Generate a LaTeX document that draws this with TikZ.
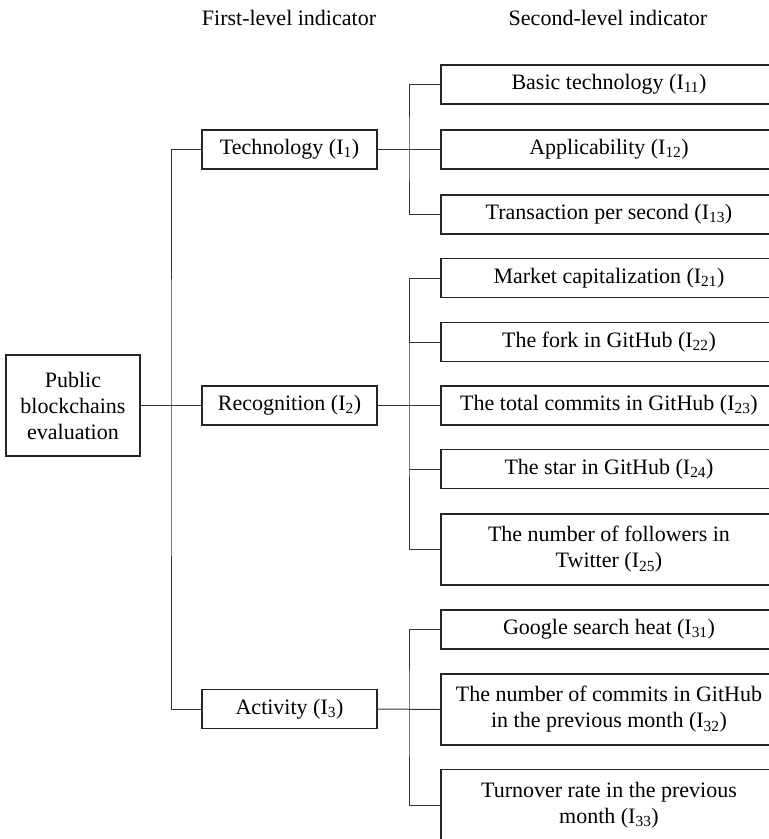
\documentclass[tikz,border=0pt]{standalone}
\usepackage{fontspec}
\setmainfont{Liberation Serif}
\usepackage{tikz}
\usetikzlibrary{positioning,calc}
\tikzset{
  nb/.style={draw=black!85, line width=1.6pt, align=center, inner sep=0pt,
             font=\fontsize{22}{26}\selectfont},
  nroot/.style={nb, minimum width=134, minimum height=101},
  nfirst/.style={nb, minimum width=175, minimum height=39},
  nsecond/.style={nb, minimum width=336, minimum height=39},
  nsecondtall/.style={nsecond, minimum height=71},
  nhead/.style={font=\fontsize{22}{26}\selectfont, inner sep=0pt},
  ln/.style={draw=black!80, line width=1pt},
}
\begin{document}
\begin{tikzpicture}[x=1pt, y=1pt]
  \path[use as bounding box, clip] (0,0) rectangle (769,-839);
  % column headings
  \node[nhead] (h1) at (289,-18) {First-level indicator};
  \node[nhead] (h2) at (608,-18) {Second-level indicator};
  % goal
  \node[nroot] (root) at (73,-405.5) {Public\\blockchains\\evaluation};
  % first level
  \node[nfirst] (tec) at (289.5,-149.5) {Technology (I\textsubscript{1})};
  \node[nfirst] (rec) at (289.5,-405.5) {Recognition (I\textsubscript{2})};
  \node[nfirst] (act) at (289.5,-709) {Activity (I\textsubscript{3})};
  % second level
  \node[nsecond] (b11) at (609,-84.5) {Basic technology (I\textsubscript{11})};
  \node[nsecond] (b12) at (609,-149.5) {Applicability (I\textsubscript{12})};
  \node[nsecond] (b13) at (609,-214.5) {Transaction per second (I\textsubscript{13})};
  \node[nsecond] (b21) at (609,-278) {Market capitalization (I\textsubscript{21})};
  \node[nsecond] (b22) at (609,-342) {The fork in GitHub (I\textsubscript{22})};
  \node[nsecond] (b23) at (609,-405.5) {The total commits in GitHub (I\textsubscript{23})};
  \node[nsecond] (b24) at (609,-469) {The star in GitHub (I\textsubscript{24})};
  \node[nsecondtall] (b25) at (609,-549.5) {The number of followers in\\Twitter (I\textsubscript{25})};
  \node[nsecond] (b31) at (609,-629.5) {Google search heat (I\textsubscript{31})};
  \node[nsecondtall] (b32) at (609,-709.5) {The number of commits in GitHub\\in the previous month (I\textsubscript{32})};
  \node[nsecondtall] (b33) at (609,-805) {Turnover rate in the previous\\month (I\textsubscript{33})};
  % junctions
  \coordinate (j0) at (171,-405.5);
  \coordinate (j1) at (409,-149.5);
  \coordinate (j2) at (409,-405.5);
  \coordinate (j3) at (409,-709.5);
  % connectors
  \draw[ln] (root) -- (rec);
  \draw[ln] (tec.west) -| (j0) |- (act.west);
  \draw[ln] (tec.east) -- (b12.west);
  \draw[ln] (b11.west) -| (j1) |- (b13.west);
  \draw[ln] (rec.east) -- (b23.west);
  \draw[ln] (b21.west) -| (j2) |- (b25.west);
  \draw[ln] (b22.west) -- (b22.west -| j2);
  \draw[ln] (b24.west) -- (b24.west -| j2);
  \draw[ln] (act.east) -- (b32.west);
  \draw[ln] (b31.west) -| (j3) |- (b33.west);
\end{tikzpicture}
\end{document}
